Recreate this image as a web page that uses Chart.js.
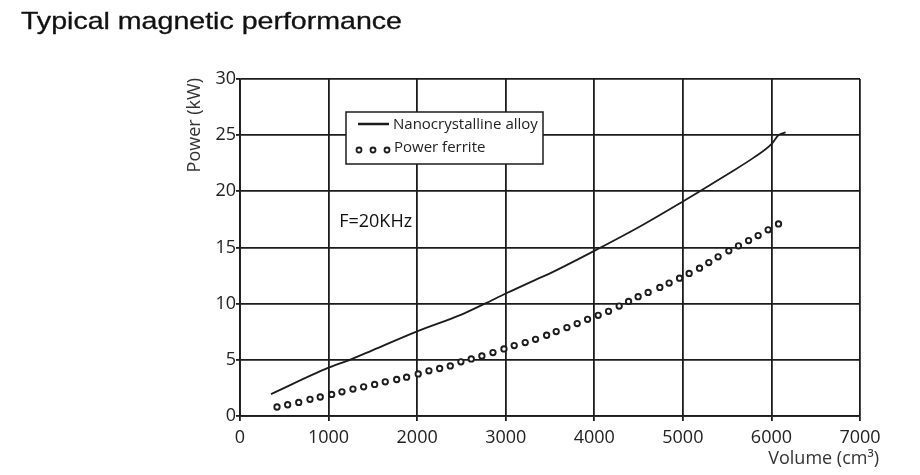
<!DOCTYPE html>
<html lang="en">
<head>
    <meta charset="UTF-8">
    <title>Typical magnetic performance</title>
    <script src="https://cdn.jsdelivr.net/npm/chart.js"></script>
    <style>
        body {
            margin: 0;
            background: #ffffff;
        }
        #wrap {
            width: 920px;
            height: 475px;
        }
    </style>
</head>
<body>
    <div id="wrap"><canvas id="perfChart"></canvas></div>

    <script>
        // values
        const alloyVolume = [350, 1000, 1240, 1500, 2000, 2500, 2765, 3000, 3330, 3500, 4000, 4500, 5000, 5210, 5500, 5800, 6000, 6080, 6160];
        const alloyPower  = [1.95, 4.3, 5.0, 5.87, 7.54, 9.03, 10.0, 10.9, 12.1, 12.7, 14.7, 16.8, 19.1, 20.1, 21.5, 23.0, 24.2, 25.0, 25.25];

        const ferriteVolume = [418, 538, 663, 790, 906, 1035, 1151, 1275, 1396, 1520, 1640, 1769, 1881, 2012, 2133, 2254, 2374, 2494, 2611, 2731,
                               2856, 2980, 3096, 3220, 3337, 3462, 3570, 3691, 3807, 3924, 4044, 4161, 4281, 4387, 4495, 4608, 4740, 4845, 4963, 5071,
                               5188, 5293, 5398, 5519, 5628, 5742, 5850, 5963, 6080];
        const ferritePower  = [0.80, 1.0, 1.21, 1.48, 1.69, 1.92, 2.15, 2.40, 2.60, 2.81, 3.04, 3.25, 3.46, 3.75, 4.02, 4.23, 4.46, 4.82, 5.08, 5.35,
                               5.65, 5.97, 6.27, 6.54, 6.83, 7.19, 7.52, 7.87, 8.23, 8.61, 8.96, 9.32, 9.79, 10.2, 10.62, 11.0, 11.45, 11.83, 12.27, 12.69,
                               13.16, 13.66, 14.17, 14.7, 15.15, 15.62, 16.06, 16.57, 17.1];

        const seriesNames = ['Nanocrystalline alloy', 'Power ferrite'];
        const chartTitle = 'Typical magnetic performance';
        const xTitle = 'Volume (cm³)';
        const yTitle = 'Power (kW)';
        const note = 'F=20KHz';

        const INK = '#1c1c1c';
        const FONT = '"Open Sans", "Noto Sans", sans-serif';

        function toPoints(xs, ys) {
            return xs.map((x, i) => ({ x: x, y: ys[i] }));
        }

        // title, axis titles, legend box and the frequency note
        const decorations = {
            id: 'decorations',
            afterDatasetsDraw(chart) {
                const ctx = chart.ctx;
                const xs = chart.scales.x, ys = chart.scales.y;
                ctx.save();
                ctx.fillStyle = '#111';

                // title (stretched wide like the original)
                ctx.save();
                ctx.font = '24px "Liberation Sans", Arial, sans-serif';
                ctx.textBaseline = 'alphabetic';
                ctx.translate(21, 29);
                ctx.scale(1.19, 1);
                ctx.strokeStyle = '#111';
                ctx.lineWidth = 0.3;
                ctx.fillText(chartTitle, 0, 0);
                ctx.strokeText(chartTitle, 0, 0);
                ctx.restore();

                // axis titles
                ctx.fillStyle = '#333';
                ctx.font = '18px ' + FONT;
                ctx.textBaseline = 'middle';
                ctx.textAlign = 'right';
                ctx.fillText(xTitle, 879, 459);
                ctx.save();
                ctx.translate(195, chart.chartArea.top - 1);
                ctx.rotate(-Math.PI / 2);
                ctx.fillText(yTitle, 0, 0);
                ctx.restore();

                // note
                ctx.fillStyle = '#111';
                ctx.textAlign = 'left';
                ctx.fillText(note, xs.getPixelForValue(1120), ys.getPixelForValue(17.3));

                // legend box
                ctx.fillStyle = '#fff';
                ctx.strokeStyle = INK;
                ctx.lineWidth = 1.5;
                ctx.fillRect(346, 112, 197, 52);
                ctx.strokeRect(346, 112, 197, 52);

                ctx.beginPath();
                ctx.lineWidth = 2.5;
                ctx.moveTo(358, 124);
                ctx.lineTo(389, 124);
                ctx.stroke();

                ctx.lineWidth = 1.8;
                [359, 373, 387].forEach(cx => {
                    ctx.beginPath();
                    ctx.arc(cx, 150, 2.5, 0, Math.PI * 2);
                    ctx.fill();
                    ctx.stroke();
                });

                ctx.fillStyle = '#222';
                ctx.font = '15px ' + FONT;
                ctx.fillText(seriesNames[0], 393, 125);
                ctx.fillText(seriesNames[1], 394, 148);
                ctx.restore();
            }
        };

        const ctx = document.getElementById('perfChart').getContext('2d');

        new Chart(ctx, {
            type: 'scatter',
            data: {
                datasets: [
                    {
                        label: seriesNames[0],
                        data: toPoints(alloyVolume, alloyPower),
                        showLine: true,
                        borderColor: INK,
                        borderWidth: 1.8,
                        pointRadius: 0,
                        cubicInterpolationMode: 'monotone'
                    },
                    {
                        label: seriesNames[1],
                        data: toPoints(ferriteVolume, ferritePower),
                        showLine: false,
                        pointRadius: 2.7,
                        pointBorderWidth: 1.9,
                        pointBorderColor: INK,
                        pointBackgroundColor: '#fff'
                    }
                ]
            },
            options: {
                responsive: true,
                maintainAspectRatio: false,
                animation: false,
                layout: {
                    padding: { left: 0, right: 60, top: 79, bottom: 0 }
                },
                plugins: {
                    legend: { display: false },
                    tooltip: { enabled: false },
                    title: { display: false }
                },
                scales: {
                    x: {
                        type: 'linear',
                        min: 0,
                        max: 7000,
                        afterFit(scale) { scale.height = 59; },
                        border: { color: INK, width: 1.8 },
                        grid: { color: INK, lineWidth: 1.8, tickLength: 5 },
                        ticks: {
                            stepSize: 1000,
                            padding: 6,
                            color: '#222',
                            font: { family: FONT, size: 18 },
                            callback: v => String(v)
                        }
                    },
                    y: {
                        min: 0,
                        max: 30,
                        afterFit(scale) { scale.width = 240; },
                        border: { color: INK, width: 1.8 },
                        grid: { color: INK, lineWidth: 1.8, tickLength: 4 },
                        ticks: {
                            stepSize: 5,
                            padding: 0,
                            color: '#222',
                            font: { family: FONT, size: 18 },
                            callback: v => String(v)
                        }
                    }
                }
            },
            plugins: [decorations]
        });
    </script>
</body>
</html>
